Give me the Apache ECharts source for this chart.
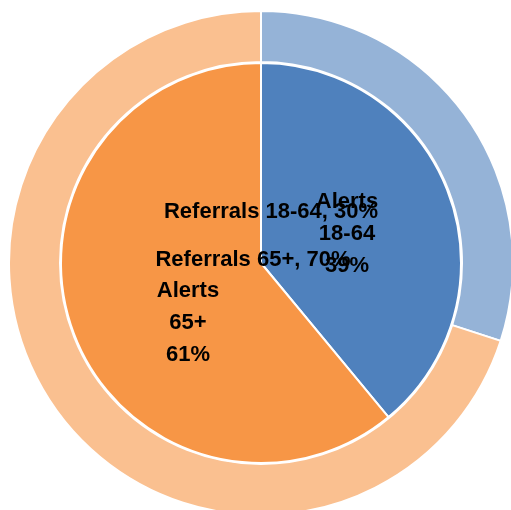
<!DOCTYPE html>
<html>
<head>
<meta charset="utf-8">
<script src="https://cdn.jsdelivr.net/npm/echarts@6/dist/echarts.min.js"></script>
<style>
  html, body { margin: 0; padding: 0; background: #fff; }
  #main { width: 511px; height: 510px; }
</style>
</head>
<body>
<div id="main"></div>
<script>
// 数据
var ageGroups = ['18-64', '65+'];
var alerts = [39, 61];
var referrals = [30, 70];

var innerColors = ['#4F81BD', '#F79646'];
var outerColors = ['#95B3D7', '#FAC090'];

// 标签位置 (Excel 原图里的位置)
var innerLabelPos = [[347, 234], [188, 323]];
var outerLabelPos = [[271, 212], [253, 260]];

var chart = echarts.init(document.getElementById('main'));

var labelFont = {
    fontFamily: 'Liberation Sans',
    fontWeight: 'bold',
    fontSize: 22,
    color: '#000'
};

chart.setOption({
    animation: false,
    series: [
        {
            name: 'Referrals',
            type: 'pie',
            center: [261, 263],
            radius: [201, 252],
            startAngle: 90,
            clockwise: true,
            itemStyle: { borderColor: '#fff', borderWidth: 2 },
            label: Object.assign({
                show: true,
                position: 'inside',
                formatter: function (p) {
                    return 'Referrals ' + p.name + ', ' + Math.round(p.percent) + '%';
                }
            }, labelFont),
            labelLine: { show: false },
            labelLayout: function (p) {
                var pos = outerLabelPos[p.dataIndex];
                return { x: pos[0], y: pos[1], align: 'center', verticalAlign: 'middle' };
            },
            emphasis: { disabled: true },
            data: ageGroups.map(function (g, i) {
                return { name: g, value: referrals[i], itemStyle: { color: outerColors[i] } };
            })
        },
        {
            name: 'Alerts',
            type: 'pie',
            center: [261, 263],
            radius: [0, 200],
            startAngle: 90,
            clockwise: true,
            itemStyle: { borderColor: '#fff', borderWidth: 2 },
            label: Object.assign({
                show: true,
                position: 'inside',
                lineHeight: 32,
                align: 'center',
                formatter: function (p) {
                    return 'Alerts\n' + p.name + '\n' + Math.round(p.percent) + '%';
                }
            }, labelFont),
            labelLine: { show: false },
            labelLayout: function (p) {
                var pos = innerLabelPos[p.dataIndex];
                return { x: pos[0], y: pos[1], align: 'center', verticalAlign: 'middle' };
            },
            emphasis: { disabled: true },
            data: ageGroups.map(function (g, i) {
                return { name: g, value: alerts[i], itemStyle: { color: innerColors[i] } };
            })
        }
    ]
});
</script>
</body>
</html>
